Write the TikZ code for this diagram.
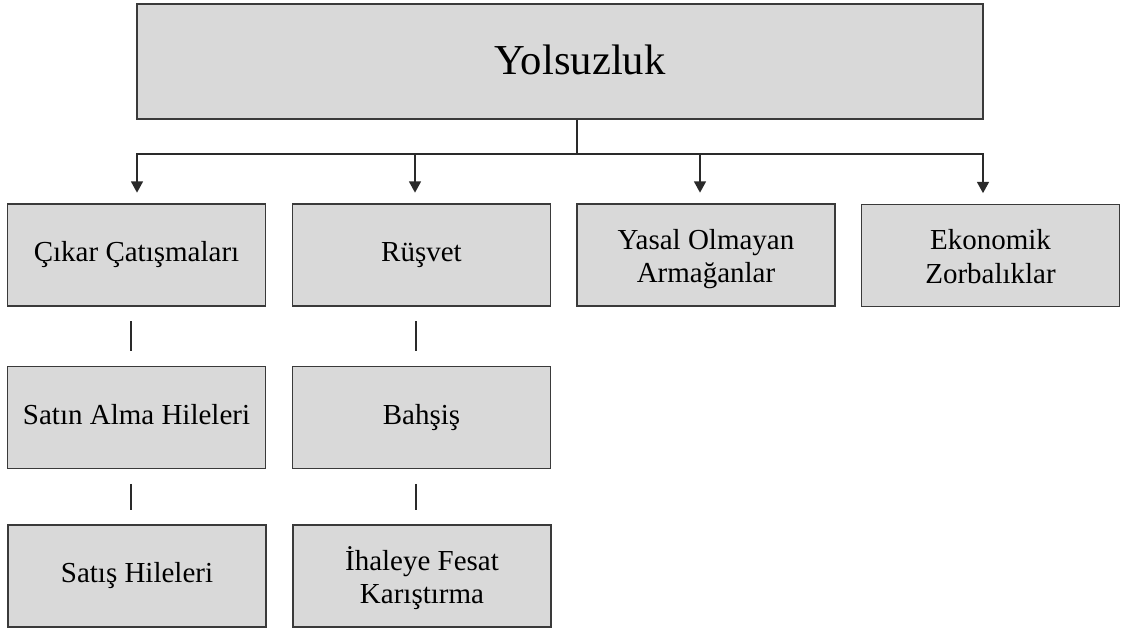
\documentclass[tikz,border=0pt]{standalone}
\usepackage{fontspec}
\setmainfont{Liberation Serif}
\usetikzlibrary{arrows.meta}
\definecolor{kutudolgu}{HTML}{D9D9D9}
\definecolor{kutucizgi}{HTML}{3A3A3A}
\definecolor{okrenk}{HTML}{2A2A2A}
\newcommand{\ikisatir}[2]{\raisebox{-3.4pt}[0pt][0pt]{\begin{tabular}{@{}c@{}}#1\\#2\end{tabular}}}
\tikzset{
    kutu/.style={draw=kutucizgi, fill=kutudolgu, line width=1pt, inner sep=0pt,
        minimum width=193.5pt, minimum height=76.5pt, align=center,
        font=\fontsize{21.75}{25}\selectfont,
        execute at begin node=\strut, execute at end node=\strut},
    cizgi/.style={draw=okrenk, line width=1.2pt},
    ok/.style={cizgi, -{Triangle[width=9pt,length=8.5pt]}, shorten >=8pt},
    bag/.style={cizgi, shorten <=11pt, shorten >=11pt}
}

\begin{document}
\begin{tikzpicture}[x=0.75pt,y=-0.75pt]
\useasboundingbox (0,0) rectangle (1123,630);

\node[kutu, minimum width=634.5pt, minimum height=86.25pt] (ust) at (560,61.5) {};
\node[font=\fontsize{32}{38}\selectfont, inner sep=0pt] (ustyazi) at (580,60) {Yolsuzluk};

\node[kutu] (cikar) at (136.5,255) {Çıkar Çatışmaları};
\node[kutu] (rusvet) at (421.5,255) {Rüşvet};
\node[kutu] (armagan) at (706,255) {\ikisatir{Yasal Olmayan}{Armağanlar}};
\node[kutu] (zorba) at (990.5,255.5) {\ikisatir{Ekonomik}{Zorbalıklar}};
\node[kutu] (satinalma) at (136.5,417.5) {Satın Alma Hileleri};
\node[kutu] (bahsis) at (421.5,417.5) {Bahşiş};
\node[kutu] (satis) at (137,576) {Satış Hileleri};
\node[kutu] (ihale) at (422,576) {\ikisatir{İhaleye Fesat}{Karıştırma}};

\coordinate (kol) at (577,154);
\coordinate (a1) at (137,154);
\coordinate (a2) at (415,154);
\coordinate (a3) at (700,154);
\coordinate (a4) at (983,154);
\draw[cizgi] (ust.south -| kol) -- (kol);
\draw[cizgi, line cap=rect] (a1) -- (a4);
\draw[ok] (a1) -- (a1 |- cikar.north);
\draw[ok] (a2) -- (a2 |- rusvet.north);
\draw[ok] (a3) -- (a3 |- armagan.north);
\draw[ok] (a4) -- (a4 |- zorba.north);

\draw[bag] ([xshift=-4pt]cikar.south) -- ([xshift=-4pt]satinalma.north);
\draw[bag] ([xshift=-4pt]satinalma.south) -- ([xshift=-4pt]satinalma.south |- satis.north);
\draw[bag] ([xshift=-4pt]rusvet.south) -- ([xshift=-4pt]bahsis.north);
\draw[bag] ([xshift=-4pt]bahsis.south) -- ([xshift=-4pt]bahsis.south |- ihale.north);
\end{tikzpicture}
\end{document}
